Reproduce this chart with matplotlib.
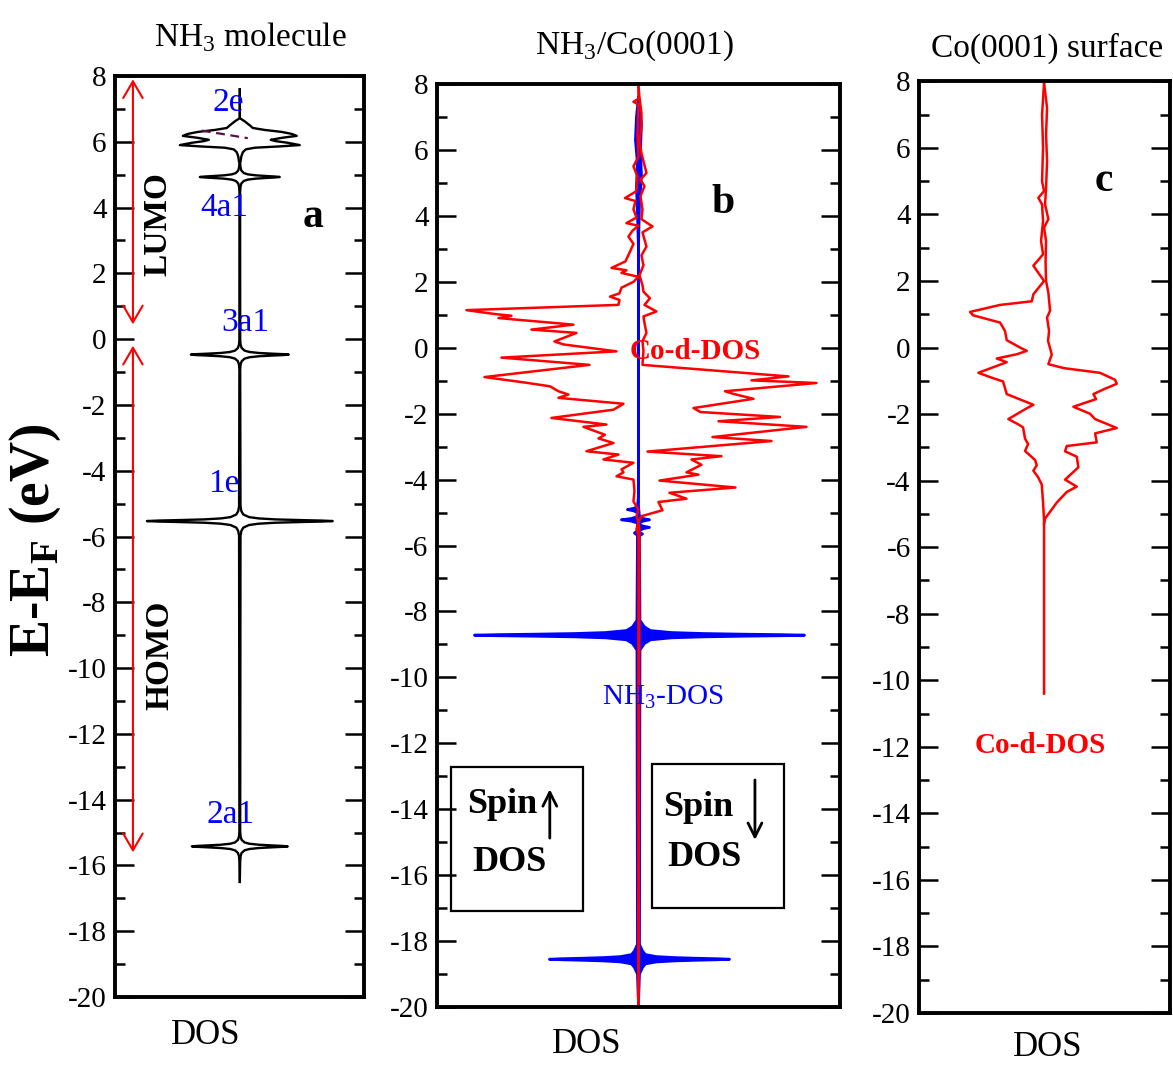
import matplotlib
matplotlib.use("Agg")
import matplotlib.pyplot as plt
from matplotlib.ticker import MultipleLocator
from matplotlib.patches import Rectangle
import numpy as np

plt.rcParams['font.family'] = 'Liberation Serif'
plt.rcParams['mathtext.fontset'] = 'custom'
plt.rcParams['mathtext.rm'] = 'Liberation Serif'
plt.rcParams['mathtext.bf'] = 'Liberation Serif:bold'
plt.rcParams['axes.unicode_minus'] = False

# ---- panel a: NH3 molecule DOS (mirrored, black) ----
mol_E = [7.60, 6.72, 6.62, 6.50, 6.42, 6.36, 6.30, 6.24, 6.18, 6.12, 6.06, 6.02, 5.97, 5.90, 5.86, 5.82, 5.77, 5.68, 5.55, 5.40,
         5.38, 5.23, 5.13, 5.05, 5.01, 4.98, 4.955, 4.945, 4.93, 4.915, 4.905, 4.88, 4.85, 4.81, 4.73, 4.63, 4.48,
         -0.02, -0.17, -0.27, -0.35, -0.39, -0.42, -0.445, -0.455, -0.47, -0.485, -0.495, -0.52, -0.55, -0.59, -0.67, -0.77, -0.92,
         -5.08, -5.23, -5.33, -5.41, -5.45, -5.48, -5.505, -5.515, -5.53, -5.545, -5.555, -5.58, -5.61, -5.65, -5.73, -5.83, -5.98,
         -14.97, -15.12, -15.22, -15.30, -15.34, -15.37, -15.395, -15.405, -15.42, -15.435, -15.445, -15.47, -15.50, -15.54, -15.62, -15.72, -15.87, -16.5]
mol_dos = [0.0, 0.0, 0.05, 0.10, 0.13, 0.25, 0.42, 0.52, 0.57, 0.42, 0.31, 0.36, 0.48, 0.60, 0.40, 0.15, 0.06, 0.03, 0.015, 0.008,
           0.003, 0.007, 0.015, 0.04, 0.08, 0.16, 0.29, 0.35, 0.40, 0.35, 0.29, 0.16, 0.08, 0.04, 0.015, 0.007, 0.003,
           0.004, 0.008, 0.019, 0.049, 0.098, 0.19, 0.35, 0.43, 0.49, 0.43, 0.35, 0.19, 0.098, 0.049, 0.019, 0.008, 0.004,
           0.007, 0.016, 0.035, 0.093, 0.19, 0.36, 0.67, 0.82, 0.93, 0.82, 0.67, 0.36, 0.19, 0.093, 0.035, 0.016, 0.007,
           0.004, 0.008, 0.018, 0.048, 0.096, 0.19, 0.35, 0.42, 0.48, 0.42, 0.35, 0.19, 0.096, 0.048, 0.018, 0.008, 0.004, 0.0]
dash_x = [-0.38, 0.08]
dash_E = [6.34, 6.11]
mol_labels = ['2e', '4a1', '3a1', '1e', '2a1']
mol_label_x = [-0.12, -0.15, 0.06, -0.16, -0.09]
mol_label_E = [7.2, 4.0, 0.5, -4.4, -14.45]

# ---- panel b: NH3/Co(0001) ----
co_up_E = [7.95, 7.55, 7.46, 7.38, 6.5, 5.8, 5.5, 5.2, 4.75, 4.54, 4.45, 4.2, 3.95, 3.78, 3.7, 3.55, 3.37, 3.15, 2.88, 2.62,
           2.42, 2.35, 2.27, 2.15, 2.0, 1.82, 1.65, 1.55, 1.45, 1.30, 1.14, 1.02, 0.97, 0.90, 0.70, 0.55, 0.45, 0.19, 0.10, -0.11,
           -0.30, -0.52, -0.89, -1.05, -1.17, -1.32, -1.42, -1.52, -1.70, -1.88, -2.13, -2.33, -2.40, -2.64, -2.75, -2.89,
           -3.14, -3.24, -3.39, -3.49, -3.69, -3.78, -3.90, -4.00, -4.35, -4.66, -4.91, -5.12, -5.30, -5.50, -5.70, -19.9]
co_up_dos = [0.0, 0.0, 0.05, 0.0, 0.01, 0.0, 0.05, 0.01, 0.02, 0.135, 0.03, 0.05, 0.02, 0.12, 0.0, 0.06, 0.10, 0.05, 0.09, 0.13,
             0.27, 0.12, 0.17, 0.0, 0.05, 0.17, 0.19, 0.285, 0.19, 0.20, 1.72, 1.43, 1.27, 1.40, 0.65, 1.07, 0.62, 0.84, 0.75, 0.22,
             1.37, 0.49, 1.54, 1.15, 0.885, 0.80, 0.70, 0.80, 0.15, 0.25, 0.87, 0.32, 0.55, 0.335, 0.40, 0.25,
             0.52, 0.20, 0.35, 0.05, 0.17, 0.15, 0.22, 0.05, 0.04, 0.05, 0.0, 0.02, 0.0, 0.02, 0.0, 0.0]
co_dn_E = [7.95, 7.6, 7.12, 6.7, 6.3, 5.9, 5.3, 5.1, 4.9, 4.6, 4.2, 3.9, 3.68, 3.5, 3.07, 2.8, 2.5, 2.2, 1.9, 1.7,
           1.5, 1.3, 1.1, 0.95, 0.75, 0.45, 0.2, -0.1, -0.52, -0.87, -0.99, -1.07, -1.32, -1.40, -1.55, -1.83, -1.95, -2.10,
           -2.23, -2.40, -2.71, -2.83, -3.15, -3.29, -3.39, -3.55, -3.78, -3.85, -4.03, -4.24, -4.40, -4.58, -4.68, -4.93,
           -5.11, -5.30, -5.50, -19.9]
co_dn_dos = [0.0, 0.01, 0.03, 0.03, 0.01, 0.03, 0.08, 0.02, 0.06, 0.02, 0.04, 0.03, 0.14, 0.04, 0.08, 0.03, 0.05, 0.01, 0.04, 0.05,
             0.115, 0.06, 0.18, 0.05, 0.06, 0.08, 0.04, 0.05, 0.04, 1.50, 1.13, 1.78, 0.865, 0.95, 1.15, 0.55, 0.62, 1.415,
             0.80, 1.68, 0.74, 1.33, 0.09, 0.83, 0.53, 0.63, 0.48, 0.60, 0.21, 0.97, 0.31, 0.48, 0.20, 0.24,
             0.03, 0.0, 0.01, 0.0]
nh3_up_E = [7.6, 7.0, 6.3, 5.6, 4.9, 4.1, 3.0, -4.5,
            -4.81, -4.87, -4.91, -4.95, -5.01, -5.12, -5.18, -5.22, -5.26, -5.32, -5.55, -5.62, -5.69,
            -8.27, -8.47, -8.58, -8.64, -8.67, -8.69, -8.705, -8.72, -8.735, -8.75, -8.77, -8.80, -8.86, -8.97, -9.17,
            -18.10, -18.30, -18.41, -18.47, -18.50, -18.52, -18.535, -18.55, -18.565, -18.58, -18.60, -18.63, -18.69, -18.80, -19.0,
            -19.9]
nh3_up_dos = [0.0, 0.02, 0.03, 0.01, 0.02, 0.01, 0.0, 0.0,
              0.01, 0.045, 0.11, 0.045, 0.01, 0.01, 0.07, 0.17, 0.07, 0.01, 0.01, 0.04, 0.01,
              0.015, 0.06, 0.12, 0.33, 0.64, 1.05, 1.43, 1.64, 1.43, 1.05, 0.64, 0.33, 0.12, 0.06, 0.015,
              0.01, 0.04, 0.07, 0.18, 0.35, 0.57, 0.77, 0.89, 0.77, 0.57, 0.35, 0.18, 0.07, 0.04, 0.01,
              0.0]
nh3_dn_E = [7.6, 6.8, 6.0, 5.2, 4.4, 3.0, -4.8,
            -5.12, -5.18, -5.22, -5.26, -5.32, -5.37, -5.41, -5.45, -5.49, -5.55, -5.60, -5.65, -5.70,
            -8.27, -8.47, -8.58, -8.64, -8.67, -8.69, -8.705, -8.72, -8.735, -8.75, -8.77, -8.80, -8.86, -8.97, -9.17,
            -18.10, -18.30, -18.41, -18.47, -18.50, -18.52, -18.535, -18.55, -18.565, -18.58, -18.60, -18.63, -18.69, -18.80, -19.0,
            -19.9]
nh3_dn_dos = [0.0, 0.03, 0.02, 0.03, 0.01, 0.0, 0.0,
              0.01, 0.045, 0.11, 0.045, 0.01, 0.01, 0.045, 0.11, 0.045, 0.01, 0.01, 0.04, 0.01,
              0.015, 0.06, 0.12, 0.33, 0.65, 1.06, 1.45, 1.66, 1.45, 1.06, 0.65, 0.33, 0.12, 0.06, 0.015,
              0.01, 0.04, 0.07, 0.18, 0.36, 0.58, 0.79, 0.91, 0.79, 0.58, 0.36, 0.18, 0.07, 0.04, 0.01,
              0.0]

# ---- panel c: clean Co(0001) surface ----
surf_up_E = [7.95, 7.0, 6.0, 5.0, 4.7, 4.5, 4.3, 3.8, 3.2, 2.8, 2.46, 2.3, 2.0, 1.60, 1.39, 1.28, 1.07, 0.97, 0.75, 0.60,
             0.49, 0.22, 0.0, -0.10, -0.20, -0.33, -0.44, -0.76, -0.92, -1.02, -1.40, -1.72, -1.82, -2.15, -2.31, -2.40,
             -2.74, -2.90, -3.11, -3.38, -3.54, -3.70, -3.91, -4.12, -4.66, -5.20, -10.4]
surf_up_dos = [0.0, 0.02, 0.01, 0.02, 0.0, 0.057, 0.02, 0.01, 0.03, 0.01, 0.107, 0.07, 0.0, 0.107, 0.123, 0.44, 0.74, 0.71, 0.44, 0.41,
               0.39, 0.373, 0.24, 0.173, 0.27, 0.473, 0.373, 0.657, 0.51, 0.41, 0.373, 0.107, 0.17, 0.357, 0.257, 0.21,
               0.19, 0.16, 0.19, 0.09, 0.073, 0.107, 0.057, 0.023, 0.01, 0.0, 0.0]
surf_dn_E = [7.95, 7.2, 6.4, 5.6, 4.8, 4.3, 3.86, 3.6, 3.2, 2.6, 2.0, 1.65, 1.11, 0.9, 0.5, 0.2, -0.21, -0.50, -0.62, -0.76,
             -0.97, -1.09, -1.25, -1.40, -1.55, -1.78, -1.99, -2.15, -2.42, -2.58, -2.85, -2.96, -3.12, -3.28, -3.60, -3.97,
             -4.18, -4.34, -4.66, -5.14, -5.3]
surf_dn_dos = [0.0, 0.03, 0.02, 0.03, 0.02, 0.01, 0.043, 0.0, 0.02, 0.015, 0.02, 0.043, 0.06, 0.03, 0.05, 0.04, 0.077, 0.043, 0.2, 0.56,
               0.71, 0.727, 0.6, 0.493, 0.52, 0.293, 0.46, 0.51, 0.727, 0.51, 0.527, 0.227, 0.21, 0.327, 0.343, 0.21,
               0.327, 0.227, 0.127, 0.01, 0.0]

fig = plt.figure(figsize=(11.73, 10.66), dpi=100)
ax_a = fig.add_axes([0.098, 0.0647, 0.212, 0.864])
ax_b = fig.add_axes([0.3725, 0.0553, 0.3436, 0.8659])
ax_c = fig.add_axes([0.7835, 0.0497, 0.214, 0.874])

for ax in (ax_a, ax_b, ax_c):
    ax.set_ylim(-20, 8)
    ax.set_xticks([])
    ax.yaxis.set_major_locator(MultipleLocator(2))
    ax.yaxis.set_minor_locator(MultipleLocator(1))
    ax.tick_params(axis='y', which='both', direction='in', left=True, right=True,
                   labelsize=21, width=1.8, pad=6)
    ax.tick_params(axis='y', which='major', length=14)
    ax.tick_params(axis='y', which='minor', length=7)
    for s in ax.spines.values():
        s.set_linewidth(2.8)

# panel a
ax_a.set_xlim(-1.25, 1.24)
md = np.array(mol_dos)
ax_a.plot(md, mol_E, color='black', lw=1.7)
ax_a.plot(-md, mol_E, color='black', lw=1.7)
ax_a.plot(dash_x, dash_E, color='#5a1046', lw=1.6, ls=(0, (4, 2.5)))
for lab, x, e in zip(mol_labels, mol_label_x, mol_label_E):
    ax_a.text(x, e, lab, color='blue', fontsize=24, ha='center', va='center')
arrow_kw = dict(arrowstyle='<->,head_length=0.6,head_width=0.35', color='red', lw=1.5, mutation_scale=20,
                shrinkA=0, shrinkB=0)
ax_a.annotate('', xy=(-1.07, 7.9), xytext=(-1.07, 0.45), arrowprops=arrow_kw)
ax_a.annotate('', xy=(-1.07, -0.2), xytext=(-1.07, -15.6), arrowprops=arrow_kw)
ax_a.text(-0.82, 3.5, 'LUMO', rotation=90, fontsize=24, fontweight='bold', ha='center', va='center')
ax_a.text(-0.80, -9.6, 'HOMO', rotation=90, fontsize=24, fontweight='bold', ha='center', va='center')
ax_a.text(0.73, 3.7, 'a', fontsize=30, fontweight='bold', ha='center', va='center')

# panel b
ax_b.set_xlim(-2.015, 2.015)
up = np.array(nh3_up_dos)
dn = np.array(nh3_dn_dos)
ax_b.fill_betweenx(nh3_up_E, -up, 0, color='blue', lw=0)
ax_b.fill_betweenx(nh3_dn_E, 0, dn, color='blue', lw=0)
ax_b.plot(-up, nh3_up_E, color='blue', lw=2)
ax_b.plot(dn, nh3_dn_E, color='blue', lw=2)
ax_b.plot(-np.array(co_up_dos), co_up_E, color='red', lw=1.8)
ax_b.plot(np.array(co_dn_dos), co_dn_E, color='red', lw=1.8)
ax_b.text(0.845, 4.4, 'b', fontsize=30, fontweight='bold', ha='center', va='center')
ax_b.text(0.565, -0.12, 'Co-d-DOS', color='red', fontsize=21, fontweight='bold', ha='center', va='center')
ax_b.text(0.245, -10.6, 'NH$_3$-DOS', color='blue', fontsize=21, ha='center', va='center')
for x0, y0 in [(0.035, 0.104), (0.534, 0.107)]:
    ax_b.add_patch(Rectangle((x0, y0), 0.327, 0.156, transform=ax_b.transAxes,
                             fill=False, ec='black', lw=1.6))
ax_b.text(0.161, 0.219, 'Spin', transform=ax_b.transAxes, fontsize=26, fontweight='bold', ha='center', va='center')
ax_b.text(0.179, 0.157, 'DOS', transform=ax_b.transAxes, fontsize=26, fontweight='bold', ha='center', va='center')
ax_b.text(0.648, 0.216, 'Spin', transform=ax_b.transAxes, fontsize=26, fontweight='bold', ha='center', va='center')
ax_b.text(0.663, 0.162, 'DOS', transform=ax_b.transAxes, fontsize=26, fontweight='bold', ha='center', va='center')
spin_kw = dict(arrowstyle='->,head_length=0.5,head_width=0.25', color='black', lw=2, mutation_scale=20,
               shrinkA=0, shrinkB=0)
ax_b.annotate('', xy=(0.28, 0.236), xytext=(0.28, 0.183), xycoords='axes fraction', arrowprops=spin_kw)
ax_b.annotate('', xy=(0.789, 0.181), xytext=(0.789, 0.246), xycoords='axes fraction', arrowprops=spin_kw)

# panel c
ax_c.set_xlim(-1.25, 1.26)
ax_c.plot(-np.array(surf_up_dos), surf_up_E, color='red', lw=1.8)
ax_c.plot(np.array(surf_dn_dos), surf_dn_E, color='red', lw=1.8)
ax_c.text(0.60, 5.0, 'c', fontsize=30, fontweight='bold', ha='center', va='center')
ax_c.text(-0.04, -11.95, 'Co-d-DOS', color='red', fontsize=21, fontweight='bold', ha='center', va='center')

# titles and axis labels
fig.text(0.213, 0.957, 'NH$_3$ molecule', fontsize=24, ha='center', va='baseline')
fig.text(0.541, 0.950, 'NH$_3$/Co(0001)', fontsize=24, ha='center', va='baseline')
fig.text(0.893, 0.9465, 'Co(0001) surface', fontsize=24, ha='center', va='baseline')
fig.text(0.175, 0.029, 'DOS', fontsize=25, ha='center', va='center')
fig.text(0.500, 0.0197, 'DOS', fontsize=25, ha='center', va='center')
fig.text(0.893, 0.0178, 'DOS', fontsize=25, ha='center', va='center')
fig.text(0.030, 0.493, 'E-E$_{\\mathbf{F}}$ (eV)', fontsize=40, fontweight='bold', rotation=90,
         ha='center', va='center')

fig.savefig('out.png', dpi=100)
